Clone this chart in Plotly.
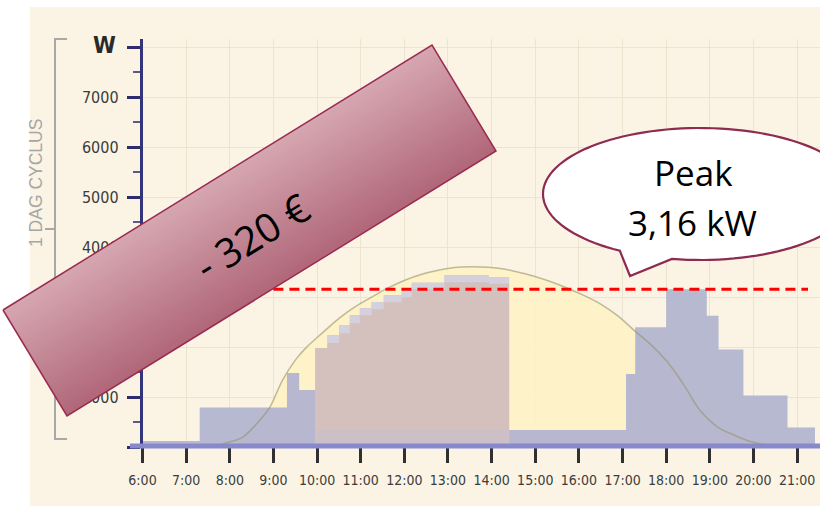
import numpy as np
import plotly.graph_objects as go

# ---------------- data ----------------
hour_ticks = list(range(6, 22))
hour_labels = [f"{h}:00" for h in hour_ticks]

y_ticks = [0, 1000, 2000, 3000, 4000, 5000, 6000, 7000, 8000]
y_labels = ["", "1000", "2000", "3000", "4000", "5000", "6000", "7000", ""]
y_unit = "W"
side_label = "1 DAG CYCLUS"

# household consumption (W), value holds from each start hour to the next
cons_t = [6.00, 7.31, 9.31, 9.59, 9.96, 10.24, 10.51, 10.75, 10.98, 11.25, 11.53,
          11.94, 12.17, 12.92, 13.94, 14.40, 17.08, 17.29, 18.00, 18.93, 19.20,
          19.77, 20.78, 21.41]
cons_w = [120, 790, 1480, 1140, 1980, 2240, 2440, 2640, 2780, 2900, 3040,
          3140, 3290, 3440, 3400, 340, 1460, 2400, 3160, 2630, 1950,
          1030, 390, 60]

# self-consumed solar part between 10:00 and 14:24 (brown block)
self_t = [9.96, 10.24, 10.51, 10.75, 10.98, 11.25, 11.53, 11.94, 12.17, 12.92, 13.94, 14.40]
self_w = [1980, 2080, 2280, 2480, 2640, 2760, 2900, 3000, 3160, 3300, 3270]
base_w = 340

# solar production curve (W)
solar_t = [7.58, 7.91, 8.30, 8.69, 8.92, 9.21, 9.51, 9.74, 10.13, 10.51, 10.86,
           11.25, 11.64, 12.01, 12.40, 12.78, 13.15, 13.53, 13.92, 14.28, 14.67,
           14.97, 15.36, 15.74, 16.10, 16.50, 16.90, 17.26, 17.65, 18.03, 18.40,
           18.78, 19.18, 19.55, 19.93, 20.32, 20.84]
solar_w = [0, 80, 200, 540, 800, 1340, 1750, 1980, 2290, 2580, 2800,
           3000, 3190, 3340, 3460, 3540, 3595, 3610, 3600, 3565, 3490,
           3420, 3310, 3180, 3040, 2860, 2620, 2340, 2050, 1700, 1250,
           730, 400, 240, 110, 40, 0]

peak_w = 3160
peak_span = [9.0, 21.25]
saving_text = "- 320 €"
peak_text = ["Peak", "3,16 kW"]

# ---------------- layout helpers ----------------
W, H = 820, 506
X0PX, PX_PER_H = 142.5, 43.64
x_range = [6, 6 + (W - X0PX) / PX_PER_H]
Y0PX, YTOPPX = 447, 39
y_max = (Y0PX - YTOPPX) / 49.94 * 1000


def px(x):
    return x / W


def py(y):
    return 1 - y / H


NARROW = "Liberation Sans Narrow, DejaVu Sans Condensed, Arial Narrow, sans-serif"
SANS = "Open Sans, Noto Sans, Liberation Sans, sans-serif"

fig = go.Figure()

# solar production area
fig.add_trace(go.Scatter(x=solar_t, y=solar_w, mode="lines",
                         line=dict(width=0, shape="spline", color="rgba(0,0,0,0)"),
                         fill="tozeroy", fillcolor="rgba(254,241,196,0.88)",
                         hoverinfo="skip"))
# consumption steps
ct = cons_t + [x_range[1]]
cw = cons_w + [cons_w[-1]]
fig.add_trace(go.Scatter(x=ct, y=cw, mode="lines",
                         line=dict(width=0, shape="hv", color="rgba(0,0,0,0)"),
                         fill="tozeroy", fillcolor="rgba(178,180,208,0.93)",
                         hoverinfo="skip"))
# consumption over solar (light steps) 10:00-14:24
lt_w = cons_w[4:15] + [cons_w[14]]
fig.add_trace(go.Scatter(x=self_t, y=lt_w, mode="lines",
                         line=dict(width=0, shape="hv", color="rgba(0,0,0,0)"),
                         fill="tozeroy", fillcolor="rgba(214,209,222,0.95)",
                         hoverinfo="skip"))
# self consumed block
fig.add_trace(go.Scatter(x=self_t, y=self_w + [self_w[-1]], mode="lines",
                         line=dict(width=0, shape="hv", color="rgba(0,0,0,0)"),
                         fill="tozeroy", fillcolor="rgba(211,191,186,0.96)",
                         hoverinfo="skip"))
fig.add_trace(go.Scatter(x=[self_t[0], self_t[-1]], y=[base_w, base_w], mode="lines",
                         line=dict(width=0, color="rgba(0,0,0,0)"),
                         fill="tozeroy", fillcolor="rgba(202,190,200,0.8)",
                         hoverinfo="skip"))
# solar curve line
fig.add_trace(go.Scatter(x=solar_t, y=solar_w, mode="lines",
                         line=dict(width=1.5, shape="spline", color="rgba(150,146,105,0.6)"),
                         hoverinfo="skip"))
# peak dashed line
fig.add_trace(go.Scatter(x=peak_span, y=[peak_w, peak_w], mode="lines",
                         line=dict(width=3, color="#FF0000", dash="10px,6px"),
                         hoverinfo="skip"))

# rotated "saving" banner drawn in a pixel-space overlay subplot
P0 = np.array([3.0, 310.0])
P1 = np.array([432.0, 45.0])
P3 = np.array([67.0, 416.0])
u = P1 - P0
n = P3 - P0
nstrip = 32
c_light = np.array([214, 167, 177])
c_dark = np.array([177, 103, 121])
for k in range(nstrip):
    s0 = k / nstrip
    s1 = min(1.0, (k + 1) / nstrip + 0.01)
    a = P0 + s0 * n
    b = P0 + u + s0 * n
    c = P0 + u + s1 * n
    d = P0 + s1 * n
    col = c_light + (c_dark - c_light) * ((k + 0.5) / nstrip)
    fig.add_trace(go.Scatter(x=[a[0], b[0], c[0], d[0], a[0]],
                             y=[a[1], b[1], c[1], d[1], a[1]],
                             xaxis="x2", yaxis="y2", mode="lines",
                             line=dict(width=0, color="rgba(0,0,0,0)"),
                             fill="toself",
                             fillcolor=f"rgb({int(col[0])},{int(col[1])},{int(col[2])})",
                             hoverinfo="skip"))
corners = [P0, P1, P1 + n, P3, P0]
fig.add_trace(go.Scatter(x=[p[0] for p in corners], y=[p[1] for p in corners],
                         xaxis="x2", yaxis="y2", mode="lines",
                         line=dict(width=1.5, color="#9A2B52"), hoverinfo="skip"))

# ---------------- shapes ----------------
shapes = []
# cream panel
shapes.append(dict(type="rect", xref="paper", yref="paper", x0=px(30), x1=1, y0=0, y1=py(7),
                   fillcolor="#FBF4E5", line=dict(width=0), layer="below"))
# left bracket
shapes.append(dict(type="path", xref="paper", yref="paper", layer="below",
                   path=f"M {px(67)},{py(39)} L {px(55)},{py(39)} L {px(55)},{py(439)} L {px(67)},{py(439)}",
                   line=dict(color="#A8A8A8", width=2)))
shapes.append(dict(type="line", xref="paper", yref="paper", layer="below",
                   x0=px(45), x1=px(55), y0=py(229), y1=py(229),
                   line=dict(color="#A8A8A8", width=2)))
# x-axis band
shapes.append(dict(type="line", xref="paper", yref="paper", layer="above",
                   x0=px(130), x1=1, y0=py(446), y1=py(446),
                   line=dict(color="#8789CC", width=5)))

# speech bubble
cx, cy, rx, ry = 700.0, 194.0, 157.0, 66.0
t_a = np.deg2rad(120.7)
t_b = np.deg2rad(100.3)
pts = [(cx + rx * np.cos(t_a), cy + ry * np.sin(t_a)), (630.0, 276.0),
       (cx + rx * np.cos(t_b), cy + ry * np.sin(t_b))]
for t in np.linspace(t_b, t_a - 2 * np.pi, 120):
    pts.append((cx + rx * np.cos(t), cy + ry * np.sin(t)))
path = "M " + " L ".join(f"{px(x):.5f},{py(y):.5f}" for x, y in pts) + " Z"
shapes.append(dict(type="path", xref="paper", yref="paper", layer="above", path=path,
                   fillcolor="white", line=dict(color="#8E2B50", width=2.2)))

# ---------------- annotations ----------------
def note(text, x, y, size, family, color="black", angle=0):
    return dict(text=text, x=px(x), y=py(y), xref="paper", yref="paper",
                xanchor="center", yanchor="middle", showarrow=False, textangle=angle,
                font=dict(family=family, size=size, color=color))


ann = [
    note(f"<b>{y_unit}</b>", 104, 45, 23, NARROW, "#2A2A2A"),
    note(side_label, 36, 183, 17.5, "Liberation Sans, Arial, sans-serif", "#A6A6A6", -90),
    note(saving_text, 251, 236, 40, SANS, "black", -31.7),
    note(peak_text[0], 693, 172, 35, SANS),
    note(peak_text[1], 692, 222, 35, SANS),
]

fig.update_layout(
    width=W, height=H, margin=dict(l=0, r=0, t=0, b=0, pad=0),
    paper_bgcolor="white", plot_bgcolor="rgba(0,0,0,0)",
    showlegend=False, template="none", hovermode=False,
    shapes=shapes, annotations=ann,
    xaxis=dict(domain=[px(X0PX), 1], range=x_range, tickvals=hour_ticks, ticktext=hour_labels,
               ticks="outside", ticklen=15, tickwidth=2.5, tickcolor="#303030",
               showgrid=True, gridcolor="#EDE4D0", gridwidth=1, showline=False, zeroline=False,
               tickfont=dict(family=NARROW, size=14, color="#3C3C3C"), automargin=False,
               ticklabelstandoff=5, fixedrange=True),
    yaxis=dict(domain=[py(Y0PX), py(YTOPPX)], range=[0, y_max], tickvals=y_ticks, ticktext=y_labels,
               ticks="outside", ticklen=13, tickwidth=3, tickcolor="#2D2D6B",
               showline=True, linecolor="#34347A", linewidth=2.5,
               showgrid=True, gridcolor="#EDE4D0", gridwidth=1, zeroline=False,
               minor=dict(tickmode="linear", tick0=0, dtick=500, ticks="outside", ticklen=7,
                          tickwidth=1.5, tickcolor="#5A5A8A", showgrid=False),
               tickfont=dict(family=NARROW, size=16, color="#3C3C3C"), automargin=False,
               ticklabelstandoff=5, fixedrange=True),
    xaxis2=dict(domain=[0, 1], range=[0, W], visible=False, anchor="y2", fixedrange=True),
    yaxis2=dict(domain=[0, 1], range=[H, 0], visible=False, anchor="x2", fixedrange=True),
)

fig.write_html("out.html", config={"displayModeBar": False},
               post_script="document.body.style.margin='0px';")
